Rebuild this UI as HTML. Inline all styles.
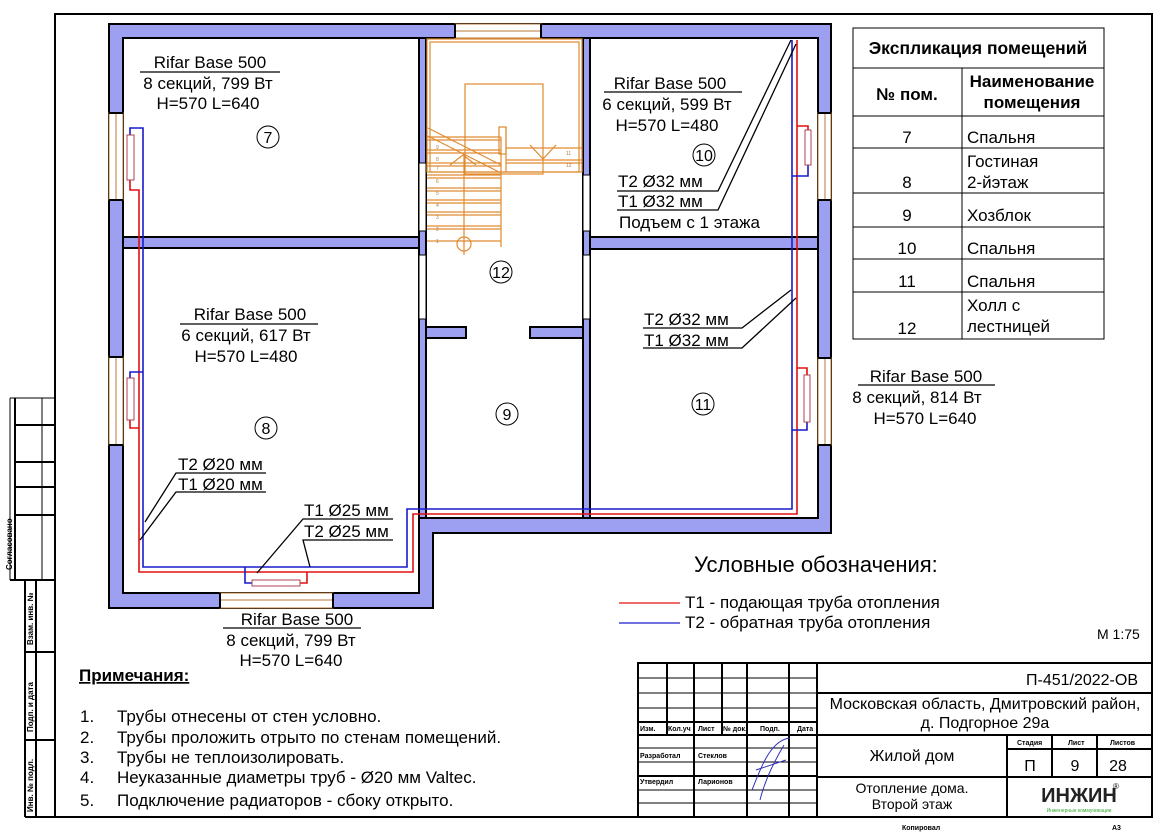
<!DOCTYPE html>
<html><head><meta charset="utf-8"><style>
html,body{margin:0;padding:0;background:#fff;}
svg{display:block;font-family:"Liberation Sans","Noto Sans CJK SC",sans-serif;}
</style></head><body>
<svg width="1166" height="833" viewBox="0 0 1166 833" xmlns="http://www.w3.org/2000/svg">
<rect width="1166" height="833" fill="#fff"/>
<rect x="55" y="14" width="1097" height="803" fill="none" stroke="#000" stroke-width="2"/>

<g fill="#9d9ff0" stroke="#000" stroke-width="2">
  <path fill-rule="evenodd" d="M109,24 H831 V533 H433 V608 H109 Z
     M123,38 V593 H419 V518 H818 V38 Z"/>
</g>
<g fill="#9d9ff0" stroke="#000" stroke-width="2">
  <rect x="123" y="237" width="296" height="11"/>
  <rect x="589" y="237" width="229" height="12"/>
  <rect x="419" y="38" width="7" height="480"/>
  <rect x="583" y="38" width="7" height="480"/>
  <rect x="426" y="327" width="40" height="11"/>
  <rect x="530" y="327" width="53" height="11"/>
</g>
<g fill="#fff" stroke="#000" stroke-width="1">
  <rect x="419" y="163" width="7" height="68"/>
  <rect x="419" y="255" width="7" height="64"/>
  <rect x="583" y="175" width="7" height="56"/>
  <rect x="583" y="255" width="7" height="64"/>
</g>
<g fill="#fff" stroke="#b5793a" stroke-width="1">
  <rect x="455" y="24" width="86" height="14"/>
  <line x1="455" y1="31" x2="541" y2="31"/>
  <rect x="109" y="113" width="14" height="87"/>
  <line x1="116" y1="113" x2="116" y2="200"/>
  <rect x="109" y="357" width="14" height="88"/>
  <line x1="116" y1="357" x2="116" y2="445"/>
  <rect x="818" y="113" width="13" height="87"/>
  <line x1="825" y1="113" x2="825" y2="200"/>
  <rect x="818" y="358" width="13" height="87"/>
  <line x1="825" y1="358" x2="825" y2="445"/>
  <rect x="220" y="593" width="113" height="15"/>
  <line x1="220" y1="600" x2="333" y2="600"/>
</g>
<g stroke="#000" stroke-width="2">
  <line x1="109" y1="113" x2="123" y2="113"/><line x1="109" y1="200" x2="123" y2="200"/>
  <line x1="109" y1="357" x2="123" y2="357"/><line x1="109" y1="445" x2="123" y2="445"/>
  <line x1="818" y1="113" x2="831" y2="113"/><line x1="818" y1="200" x2="831" y2="200"/>
  <line x1="818" y1="358" x2="831" y2="358"/><line x1="818" y1="445" x2="831" y2="445"/>
  <line x1="220" y1="593" x2="220" y2="608"/><line x1="333" y1="593" x2="333" y2="608"/>
  <line x1="455" y1="24" x2="455" y2="38"/><line x1="541" y1="24" x2="541" y2="38"/>
</g>

<g stroke="#e08a30" stroke-width="1.2" fill="none">
  <rect x="427" y="39" width="155" height="133"/>
  <rect x="430" y="42" width="149" height="130"/>
  <rect x="465" y="84" width="78" height="90"/>
  <rect x="499" y="127" width="7" height="27"/>
  <line x1="427" y1="137" x2="501" y2="137"/><line x1="427" y1="140" x2="501" y2="140"/>
  <line x1="427" y1="150" x2="501" y2="150"/><line x1="427" y1="153" x2="501" y2="153"/>
  <line x1="427" y1="163" x2="501" y2="163"/><line x1="427" y1="166" x2="501" y2="166"/>
  <line x1="427" y1="175" x2="501" y2="175"/><line x1="427" y1="178" x2="501" y2="178"/>
  <line x1="427" y1="188" x2="501" y2="188"/><line x1="427" y1="191" x2="501" y2="191"/>
  <line x1="427" y1="200" x2="501" y2="200"/><line x1="427" y1="203" x2="501" y2="203"/>
  <line x1="427" y1="212" x2="501" y2="212"/><line x1="427" y1="215" x2="501" y2="215"/>
  <line x1="427" y1="226" x2="501" y2="226"/><line x1="427" y1="229" x2="501" y2="229"/>
  <line x1="427" y1="241" x2="501" y2="241"/>
  <line x1="501" y1="137" x2="501" y2="247"/><line x1="506" y1="127" x2="506" y2="172"/>
  <line x1="506" y1="148" x2="582" y2="148"/><line x1="506" y1="160" x2="582" y2="160"/>
  <line x1="506" y1="163" x2="582" y2="163"/>
  <line x1="428" y1="128" x2="501" y2="165"/><line x1="428" y1="136" x2="501" y2="173"/>
  <line x1="464" y1="154" x2="464" y2="255"/>
  <circle cx="464" cy="244" r="7"/>
  <line x1="530" y1="145" x2="543" y2="159"/><line x1="556" y1="145" x2="543" y2="159"/>
  <line x1="450" y1="165" x2="463" y2="155"/><line x1="476" y1="165" x2="463" y2="155"/>
</g>
<g font-size="5" fill="#b5793a">
  <text x="436" y="149">9</text><text x="436" y="161">8</text><text x="436" y="170">7</text>
  <text x="436" y="183">6</text><text x="436" y="195">5</text><text x="436" y="207">4</text>
  <text x="436" y="219">3</text><text x="436" y="231">2</text><text x="436" y="243">1</text>
  <text x="566" y="155">11</text><text x="566" y="167">12</text>
</g>

<g fill="none" stroke-width="1.6">
  <path stroke="#1a1acc" d="M130,135 V128 H143 V567 H407 V509 H792 V40"/>
  <path stroke="#e01010" d="M130,180 V190 H139 V572 H413 V514 H797 V40"/>
  <path stroke="#1a1acc" d="M130,378 V372 H143"/>
  <path stroke="#e01010" d="M130,420 V428 H139"/>
  <path stroke="#1a1acc" d="M245,567 V583 H252"/>
  <path stroke="#e01010" d="M300,583 H307 V572"/>
  <path stroke="#e01010" d="M797,126 H808 V130"/>
  <path stroke="#1a1acc" d="M808,165 V176 H792"/>
  <path stroke="#e01010" d="M797,368 H807 V375"/>
  <path stroke="#1a1acc" d="M807,422 V430 H792"/>
</g>
<g fill="#fff" stroke="#b04050" stroke-width="1">
  <rect x="127" y="135" width="7" height="45"/>
  <rect x="127" y="378" width="7" height="42"/>
  <rect x="252" y="580" width="48" height="6"/>
  <rect x="805" y="130" width="6" height="35"/>
  <rect x="804" y="375" width="6" height="47"/>
</g>

<g stroke="#000" stroke-width="1.3" fill="none">
  <path d="M617,191 H718 L791,40"/>
  <path d="M617,210 H718 L796,44"/>
  <path d="M643,328 H742 L791,290"/>
  <path d="M643,348 H742 L796,298"/>
  <path d="M266,473 H176 L145,522"/>
  <path d="M266,492 H176 L140,540"/>
  <path d="M393,519 H303 L257,573"/>
  <path d="M393,540 H303 L310,567"/>
  <line x1="140" y1="72" x2="280" y2="72"/>
  <line x1="180" y1="324" x2="318" y2="324"/>
  <line x1="604" y1="92" x2="742" y2="92"/>
  <line x1="858" y1="385" x2="995" y2="385"/>
  <line x1="223" y1="628" x2="361" y2="628"/>
</g>

<g font-size="17" fill="#000" text-anchor="middle">
  <text x="210" y="68">Rifar Base 500</text>
  <text x="208" y="89">8 секций, 799 Вт</text>
  <text x="208" y="109">H=570 L=640</text>
  <text x="250" y="320">Rifar Base 500</text>
  <text x="246" y="341">6 секций, 617 Вт</text>
  <text x="246" y="362">H=570 L=480</text>
  <text x="670" y="89">Rifar Base 500</text>
  <text x="667" y="110">6 секций, 599 Вт</text>
  <text x="667" y="131">H=570 L=480</text>
  <text x="926" y="382">Rifar Base 500</text>
  <text x="917" y="403">8 секций, 814 Вт</text>
  <text x="925" y="424">H=570 L=640</text>
  <text x="297" y="625">Rifar Base 500</text>
  <text x="291" y="646">8 секций, 799 Вт</text>
  <text x="291" y="666">H=570 L=640</text>
</g>
<g font-size="17" fill="#000">
  <text x="618" y="187">T2 Ø32 мм</text>
  <text x="618" y="207">T1 Ø32 мм</text>
  <text x="619" y="228">Подъем с 1 этажа</text>
  <text x="644" y="325">T2 Ø32 мм</text>
  <text x="644" y="346">T1 Ø32 мм</text>
  <text x="178" y="470">T2 Ø20 мм</text>
  <text x="178" y="490">T1 Ø20 мм</text>
  <text x="304" y="516">T1 Ø25 мм</text>
  <text x="304" y="537">T2 Ø25 мм</text>
</g>
<g font-size="16" text-anchor="middle" fill="#000">
  <circle cx="268" cy="137" r="11" fill="none" stroke="#000"/><text x="268" y="143">7</text>
  <circle cx="266" cy="428" r="11" fill="none" stroke="#000"/><text x="266" y="434">8</text>
  <circle cx="507" cy="414" r="11" fill="none" stroke="#000"/><text x="507" y="420">9</text>
  <circle cx="704" cy="155" r="11" fill="none" stroke="#000"/><text x="704" y="161">10</text>
  <circle cx="703" cy="404" r="11" fill="none" stroke="#000"/><text x="703" y="410">11</text>
  <circle cx="501" cy="272" r="11" fill="none" stroke="#000"/><text x="501" y="278">12</text>
</g>

<g stroke="#000" stroke-width="1" fill="none">
  <rect x="853" y="28" width="251" height="311"/>
  <line x1="853" y1="68" x2="1104" y2="68"/>
  <line x1="853" y1="116" x2="1104" y2="116"/>
  <line x1="853" y1="148" x2="1104" y2="148"/>
  <line x1="853" y1="193" x2="1104" y2="193"/>
  <line x1="853" y1="227" x2="1104" y2="227"/>
  <line x1="853" y1="259" x2="1104" y2="259"/>
  <line x1="853" y1="292" x2="1104" y2="292"/>
  <line x1="962" y1="68" x2="962" y2="339"/>
</g>
<g font-size="17" fill="#000">
  <text x="978" y="54" text-anchor="middle" font-weight="bold" font-size="17.5">Экспликация помещений</text>
  <text x="907" y="100" text-anchor="middle" font-weight="bold">№ пом.</text>
  <text x="1032" y="87" text-anchor="middle" font-weight="bold">Наименование</text>
  <text x="1032" y="108" text-anchor="middle" font-weight="bold">помещения</text>
  <g text-anchor="middle">
    <text x="907" y="143">7</text><text x="907" y="188">8</text><text x="907" y="221">9</text>
    <text x="907" y="254">10</text><text x="907" y="287">11</text><text x="907" y="334">12</text>
  </g>
  <text x="967" y="143">Спальня</text>
  <text x="967" y="167">Гостиная</text><text x="967" y="188">2-йэтаж</text>
  <text x="967" y="221">Хозблок</text>
  <text x="967" y="254">Спальня</text>
  <text x="967" y="287">Спальня</text>
  <text x="967" y="311">Холл с</text><text x="967" y="332">лестницей</text>
</g>

<text x="694" y="572" font-size="22" fill="#000">Условные обозначения:</text>
<line x1="619" y1="603" x2="680" y2="603" stroke="#e01010" stroke-width="1.3"/>
<line x1="619" y1="623" x2="680" y2="623" stroke="#1a1acc" stroke-width="1.3"/>
<text x="685" y="608" font-size="17">T1 - подающая труба отопления</text>
<text x="685" y="628" font-size="17">T2 - обратная труба отопления</text>
<text x="1097" y="639" font-size="14">М 1:75</text>

<text x="79" y="681" font-size="17" font-weight="bold" text-decoration="underline">Примечания:</text>
<g font-size="17">
  <text x="80" y="722">1.</text><text x="117" y="722">Трубы отнесены от стен условно.</text>
  <text x="80" y="743">2.</text><text x="117" y="743">Трубы проложить отрыто по стенам помещений.</text>
  <text x="80" y="763">3.</text><text x="117" y="763">Трубы не теплоизолировать.</text>
  <text x="80" y="783">4.</text><text x="117" y="783">Неуказанные диаметры труб - Ø20 мм Valtec.</text>
  <text x="80" y="806">5.</text><text x="117" y="806">Подключение радиаторов - сбоку открыто.</text>
</g>

<g stroke="#000" fill="none">
  <line x1="10" y1="398" x2="55" y2="398" stroke-width="1"/>
  <line x1="10" y1="398" x2="10" y2="580" stroke-width="1"/>
  <line x1="15" y1="398" x2="15" y2="580" stroke-width="2"/>
  <line x1="42" y1="398" x2="42" y2="580" stroke-width="1"/>
  <line x1="15" y1="425" x2="55" y2="425" stroke-width="2"/>
  <line x1="15" y1="462" x2="55" y2="462" stroke-width="2"/>
  <line x1="15" y1="487" x2="55" y2="487" stroke-width="2"/>
  <line x1="15" y1="515" x2="55" y2="515" stroke-width="2"/>
  <line x1="10" y1="580" x2="55" y2="580" stroke-width="2"/>
  <line x1="25" y1="580" x2="25" y2="817" stroke-width="2"/>
  <line x1="36" y1="580" x2="36" y2="817" stroke-width="2"/>
  <line x1="25" y1="652" x2="55" y2="652" stroke-width="2"/>
  <line x1="25" y1="740" x2="55" y2="740" stroke-width="2"/>
  <line x1="25" y1="817" x2="55" y2="817" stroke-width="2"/>
</g>
<g font-size="8" font-weight="bold">
  <text transform="translate(12,570) rotate(-90)">Согласовано</text>
  <text transform="translate(33,645) rotate(-90)">Взам. инв. №</text>
  <text transform="translate(33,732) rotate(-90)">Подп. и дата</text>
  <text transform="translate(33,812) rotate(-90)">Инв. № подл.</text>
</g>

<g stroke="#000" fill="none">
  <rect x="638" y="663" width="514" height="154" stroke-width="2"/>
  <g stroke-width="1">
    <line x1="638" y1="678" x2="817" y2="678"/>
    <line x1="638" y1="693" x2="817" y2="693"/>
    <line x1="638" y1="708" x2="817" y2="708"/>
    <line x1="638" y1="762" x2="817" y2="762"/>
    <line x1="638" y1="790" x2="817" y2="790"/>
    <line x1="638" y1="803" x2="817" y2="803"/>
    <line x1="638" y1="748" x2="817" y2="748"/>
  </g>
  <g stroke-width="2">
    <line x1="638" y1="722" x2="817" y2="722"/>
    <line x1="638" y1="735" x2="817" y2="735"/>
    <line x1="638" y1="776" x2="817" y2="776"/>
    <line x1="667" y1="663" x2="667" y2="735"/>
    <line x1="694" y1="663" x2="694" y2="817"/>
    <line x1="722" y1="663" x2="722" y2="735"/>
    <line x1="747" y1="663" x2="747" y2="817"/>
    <line x1="789" y1="663" x2="789" y2="817"/>
    <line x1="817" y1="663" x2="817" y2="817"/>
    <line x1="817" y1="693" x2="1152" y2="693"/>
    <line x1="817" y1="735" x2="1152" y2="735"/>
    <line x1="817" y1="777" x2="1152" y2="777"/>
    <line x1="1007" y1="735" x2="1007" y2="817"/>
    <line x1="1052" y1="735" x2="1052" y2="777"/>
    <line x1="1097" y1="735" x2="1097" y2="777"/>
    <line x1="1007" y1="749" x2="1152" y2="749"/>
  </g>
</g>
<g font-size="7" font-weight="bold">
  <text x="640" y="731">Изм.</text><text x="668" y="731">Кол.уч</text><text x="698" y="731">Лист</text>
  <text x="723" y="731">№ док.</text><text x="760" y="731">Подп.</text><text x="797" y="731">Дата</text>
  <text x="640" y="758">Разработал</text><text x="698" y="758">Стеклов</text>
  <text x="640" y="784">Утвердил</text><text x="698" y="784">Ларионов</text>
  <text x="1017" y="745">Стадия</text><text x="1068" y="745">Лист</text><text x="1110" y="745">Листов</text>
  <text x="902" y="830">Копировал</text><text x="1112" y="830">А3</text>
</g>
<path d="M752,790 C760,770 770,740 790,738 M760,800 C765,780 775,760 784,745 M756,770 L786,760" stroke="#3030c0" fill="none" stroke-width="1"/>
<g font-size="16" text-anchor="middle">
  <text x="1138" y="685" text-anchor="end">П-451/2022-ОВ</text>
  <text x="985" y="709">Московская область, Дмитровский район,</text>
  <text x="985" y="728">д. Подгорное 29а</text>
  <text x="912" y="761">Жилой дом</text>
  <text x="1030" y="771">П</text><text x="1075" y="771">9</text><text x="1118" y="771">28</text>
</g>
<g font-size="14" text-anchor="middle">
  <text x="912" y="793">Отопление дома.</text>
  <text x="912" y="809">Второй этаж</text>
</g>
<text x="1079" y="802" font-size="20" font-weight="bold" text-anchor="middle" fill="#222">ИНЖИН</text>
<text x="1113" y="789" font-size="8">®</text>
<text x="1079" y="812" font-size="5" text-anchor="middle" fill="#3a3">Инженерные коммуникации</text>
</svg>
</body></html>
